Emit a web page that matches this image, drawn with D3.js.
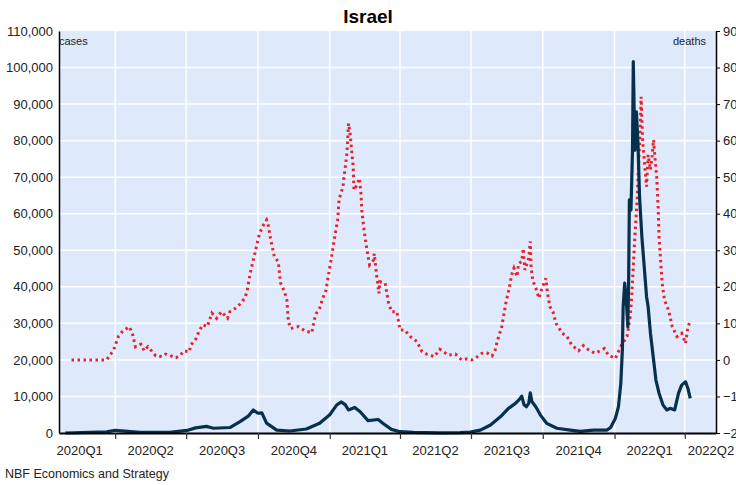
<!DOCTYPE html>
<html>
<head>
<meta charset="utf-8">
<script src="https://cdn.jsdelivr.net/npm/d3@7"></script>
<style>
  body { margin: 0; background: #fff; }
  svg { display: block; font-family: 'Liberation Sans', Arial, Helvetica, sans-serif; }
</style>
</head>
<body>
<svg id="chart"></svg>
<script>
// daily cases, 7-day style series (left axis)
const caseDates = ['2020-01-28','2020-03-21','2020-04-01','2020-04-13','2020-05-03','2020-06-10','2020-07-02','2020-07-13','2020-07-27','2020-08-05',
  '2020-08-26','2020-09-08','2020-09-19','2020-09-25','2020-10-01','2020-10-06','2020-10-12','2020-10-25','2020-11-11','2020-12-02',
  '2020-12-19','2021-01-01','2021-01-10','2021-01-16','2021-01-21','2021-01-25','2021-02-02','2021-02-09','2021-02-19','2021-03-04',
  '2021-03-10','2021-03-21','2021-04-01','2021-04-18','2021-05-22','2021-06-17','2021-06-30','2021-07-13','2021-07-26','2021-08-08',
  '2021-08-18','2021-08-27','2021-09-01','2021-09-04','2021-09-07','2021-09-10','2021-09-13','2021-09-15','2021-09-17','2021-09-22',
  '2021-09-28','2021-10-06','2021-10-19','2021-11-05','2021-11-18','2021-12-05','2021-12-22','2021-12-27','2022-01-02','2022-01-06',
  '2022-01-09','2022-01-11','2022-01-12','2022-01-14','2022-01-16','2022-01-18','2022-01-19','2022-01-20','2022-01-22','2022-01-24',
  '2022-01-25','2022-01-27','2022-01-29','2022-01-31','2022-02-02','2022-02-05','2022-02-09','2022-02-11','2022-02-13','2022-02-16',
  '2022-02-20','2022-02-23','2022-02-27','2022-03-04','2022-03-09','2022-03-13','2022-03-19','2022-03-24','2022-03-28','2022-04-02',
  '2022-04-05','2022-04-08'];
const caseValues = [0,300,750,500,150,150,700,1400,1800,1300,
  1500,3100,4700,6300,5400,5500,2700,800,550,1100,
  2650,5000,7700,8500,7700,6300,7000,5800,3400,3700,
  2650,1000,360,150,50,100,250,800,2200,4500,
  6750,8100,9200,10100,7700,7200,8100,11000,8600,7200,
  4900,2650,1300,800,460,800,800,1500,4000,7200,
  13600,22700,34600,41000,36400,29100,41000,63800,61000,77400,
  101600,77400,87900,79300,64700,53700,42800,37300,34600,27300,
  20000,14500,10900,7700,6300,6750,6300,10900,13100,14000,
  12200,9500];

// daily deaths (right axis)
const deathDates = ['2020-02-05','2020-03-21','2020-03-26','2020-03-30','2020-04-05','2020-04-10','2020-04-19','2020-04-23','2020-04-27','2020-05-04',
  '2020-05-08','2020-05-13','2020-05-23','2020-05-31','2020-06-05','2020-06-18','2020-06-24','2020-06-28','2020-07-05','2020-07-07',
  '2020-07-13','2020-07-17','2020-07-22','2020-07-28','2020-08-03','2020-08-09','2020-08-15','2020-08-23','2020-08-26','2020-09-02',
  '2020-09-08','2020-09-14','2020-09-17','2020-09-21','2020-09-25','2020-09-29','2020-10-03','2020-10-08','2020-10-12','2020-10-14',
  '2020-10-17','2020-10-22','2020-10-27','2020-10-30','2020-11-04','2020-11-07','2020-11-09','2020-11-12','2020-11-22','2020-11-30',
  '2020-12-09','2020-12-12','2020-12-15','2020-12-19','2020-12-23','2020-12-27','2020-12-30','2021-01-03','2021-01-08','2021-01-11',
  '2021-01-13','2021-01-18','2021-01-19','2021-01-21','2021-01-23','2021-01-24','2021-01-25','2021-01-27','2021-01-29','2021-01-31',
  '2021-02-01','2021-02-05','2021-02-08','2021-02-10','2021-02-11','2021-02-14','2021-02-17','2021-02-21','2021-02-26','2021-02-27',
  '2021-03-02','2021-03-05','2021-03-06','2021-03-13','2021-03-17','2021-03-21','2021-03-28','2021-04-01','2021-04-07','2021-04-14',
  '2021-04-23','2021-04-29','2021-05-05','2021-05-15','2021-05-22','2021-06-02','2021-06-11','2021-06-19','2021-06-26','2021-07-02',
  '2021-07-08','2021-07-15','2021-07-21','2021-07-28','2021-08-01','2021-08-03','2021-08-06','2021-08-09','2021-08-12','2021-08-15',
  '2021-08-19','2021-08-22','2021-08-25','2021-08-29','2021-08-31','2021-09-04','2021-09-06','2021-09-08','2021-09-13','2021-09-15',
  '2021-09-16','2021-09-18','2021-09-23','2021-09-26','2021-09-30','2021-10-05','2021-10-07','2021-10-10','2021-10-14','2021-10-18',
  '2021-10-26','2021-11-01','2021-11-07','2021-11-16','2021-11-22','2021-11-29','2021-12-07','2021-12-19','2021-12-24','2022-01-02',
  '2022-01-06','2022-01-10','2022-01-17','2022-01-21','2022-01-23','2022-01-25','2022-01-27','2022-01-30','2022-02-01','2022-02-03',
  '2022-02-04','2022-02-06','2022-02-08','2022-02-11','2022-02-13','2022-02-16','2022-02-18','2022-02-20','2022-02-22','2022-02-24',
  '2022-02-26','2022-02-27','2022-03-01','2022-03-03','2022-03-06','2022-03-11','2022-03-16','2022-03-22','2022-03-28','2022-04-02',
  '2022-04-05','2022-04-08'];
const deathValues = [0,0,1.5,2.7,6.4,7.7,9.1,7.3,3.6,4.3,
  2.5,3.6,1.1,0.9,1.6,0.6,1.4,2.5,2.2,4.1,
  5.6,7.6,9.6,9.1,12.8,11.4,13.2,11.4,13.2,14.1,
  15.3,16.9,18.7,23.7,27.3,31.0,34.6,36.9,38.3,37,
  33.3,28.2,26.9,21.0,18.7,16.4,10.5,8.6,9.1,8.0,
  7.4,10.9,12.8,14.1,16.9,18.9,22.8,27.8,34.6,38.0,
  44.0,47.4,49.7,52.9,56.5,60.6,64.7,62,57.4,52.9,
  46.5,47.9,49.7,45.6,41,35.5,31,26,27.3,29.1,
  23.2,18.2,21.4,21,15.9,13.2,13.2,8.2,8.2,6.4,
  5.0,2.3,1.6,0.9,2.9,1.3,1.6,0,0.3,0,
  0.7,1.8,2.0,1.1,2.7,4.5,6.8,8.6,12.3,15.9,
  19.6,23.2,25.1,22.8,26.4,26.9,30.5,24.6,27.8,32.4,
  25.5,21.9,19.1,16.9,19.6,22.3,18.4,14.6,13.2,10.0,
  7.3,6.4,4.1,2.5,3.9,2.7,1.8,3.1,1.3,0.4,
  2.3,4.1,6.4,11.8,17.3,25.5,33.7,43.8,54.7,63.8,
  72,60.2,54.7,47.4,56.1,52,55.6,60.2,54.7,50.1,
  41,33.7,27.3,21,16.4,13.7,9.1,6.4,7.3,4.5,
  9.1,10.5];

const quarterStarts = ['2020-01-01','2020-04-01','2020-07-01','2020-10-01','2021-01-01','2021-04-01','2021-07-01','2021-10-01','2022-01-01','2022-04-01','2022-07-01'];
const quarterLabels = ['2020Q1','2020Q2','2020Q3','2020Q4','2021Q1','2021Q2','2021Q3','2021Q4','2022Q1','2022Q2'];
const caseTicks = [0,10000,20000,30000,40000,50000,60000,70000,80000,90000,100000,110000];
const deathTicks = [-20,-10,0,10,20,30,40,50,60,70,80,90];

class DualAxisLine {

    constructor(_config) {
        this.config = {
            parentElement: _config.parentElement,
            containerWidth: _config.containerWidth || 736,
            containerHeight: _config.containerHeight || 485,
            margin: {top: 31, right: 20, bottom: 52, left: 59}
        }
        this.initVis();
    }

    initVis() {
        let vis = this;
        const parse = d3.timeParse('%Y-%m-%d');

        vis.width = vis.config.containerWidth - vis.config.margin.left - vis.config.margin.right;
        vis.height = vis.config.containerHeight - vis.config.margin.top - vis.config.margin.bottom;

        vis.cases = caseDates.map((d, i) => ({date: parse(d), value: caseValues[i]}));
        vis.deaths = deathDates.map((d, i) => ({date: parse(d), value: deathValues[i]}));
        vis.quarters = quarterStarts.map(parse);

        vis.xScale = d3.scaleTime()
            .domain([parse('2020-01-20'), parse('2022-05-11')])
            .range([0, vis.width]);

        vis.yScale = d3.scaleLinear()
            .domain([0, 110000])
            .range([vis.height, 0]);

        vis.y2Scale = d3.scaleLinear()
            .domain([-20, 90])
            .range([vis.height, 0]);

        vis.svg = d3.select(vis.config.parentElement)
            .attr('width', vis.config.containerWidth)
            .attr('height', vis.config.containerHeight);

        vis.chart = vis.svg.append('g')
            .attr('transform', `translate(${vis.config.margin.left},${vis.config.margin.top})`);

        vis.chart.append('rect')
            .attr('width', vis.width)
            .attr('height', vis.height)
            .attr('fill', '#deeafc');

        vis.svg.append('text')
            .attr('x', 368)
            .attr('y', 23)
            .attr('text-anchor', 'middle')
            .style('font-size', '19px')
            .style('font-weight', 700)
            .style('fill', '#000')
            .text('Israel');

        vis.svg.append('text')
            .attr('x', 5)
            .attr('y', 478)
            .style('font-size', '12.5px')
            .style('fill', '#222')
            .text('NBF Economics and Strategy');

        vis.renderVis();
    }

    renderVis() {
        let vis = this;
        const inner = vis.quarters.filter(q => vis.xScale(q) > 1 && vis.xScale(q) < vis.width - 1);

        // grid
        vis.chart.append('g')
            .selectAll('line')
            .data(caseTicks.filter(t => t > 0 && t < 110000))
            .join('line')
            .attr('x1', 0)
            .attr('x2', vis.width)
            .attr('y1', d => vis.yScale(d))
            .attr('y2', d => vis.yScale(d))
            .attr('stroke', '#fff')
            .attr('stroke-width', 1.5);

        vis.chart.append('g')
            .selectAll('line')
            .data(inner)
            .join('line')
            .attr('x1', d => vis.xScale(d))
            .attr('x2', d => vis.xScale(d))
            .attr('y1', 0)
            .attr('y2', vis.height)
            .attr('stroke', '#fff')
            .attr('stroke-width', 1.5);

        // deaths, dotted red, right axis
        const deathLine = d3.line()
            .x(d => vis.xScale(d.date))
            .y(d => vis.y2Scale(d.value));

        vis.chart.append('path')
            .datum(vis.deaths)
            .attr('d', deathLine)
            .attr('fill', 'none')
            .attr('stroke', '#e8212b')
            .attr('stroke-width', 3)
            .attr('stroke-dasharray', '2.5,3.5');

        // cases, solid navy, left axis
        const caseLine = d3.line()
            .x(d => vis.xScale(d.date))
            .y(d => vis.yScale(d.value));

        vis.chart.append('path')
            .datum(vis.cases)
            .attr('d', caseLine)
            .attr('fill', 'none')
            .attr('stroke', '#07304d')
            .attr('stroke-width', 3.2)
            .attr('stroke-linejoin', 'round');

        // left axis
        vis.yAxisG = vis.chart.append('g')
            .call(d3.axisLeft(vis.yScale).tickValues(caseTicks).tickSize(0).tickPadding(6).tickFormat(d3.format(',')))
            .style('font-size', '13px')
            .style('font-family', "'Liberation Sans', Arial, sans-serif");
        vis.yAxisG.select('.domain').attr('stroke', '#000').attr('stroke-width', 1.5);
        vis.yAxisG.selectAll('text').attr('fill', '#222');

        // right axis (labels run off the edge, as in the source)
        vis.y2AxisG = vis.chart.append('g')
            .attr('transform', `translate(${vis.width},0)`)
            .call(d3.axisRight(vis.y2Scale).tickValues(deathTicks).tickSize(4).tickSizeOuter(0).tickPadding(3))
            .style('font-size', '13px')
            .style('font-family', "'Liberation Sans', Arial, sans-serif");
        vis.y2AxisG.select('.domain').attr('stroke', '#000').attr('stroke-width', 1.5);
        vis.y2AxisG.selectAll('text').attr('fill', '#222');

        // bottom axis
        vis.xAxisG = vis.chart.append('g')
            .attr('transform', `translate(0,${vis.height})`)
            .call(d3.axisBottom(vis.xScale).tickValues(inner).tickSize(6).tickSizeOuter(0).tickFormat(''));
        vis.xAxisG.select('.domain').attr('stroke', '#000').attr('stroke-width', 2);
        vis.xAxisG.selectAll('.tick line').attr('stroke', '#333').attr('stroke-width', 1.2);

        vis.chart.append('g')
            .selectAll('text')
            .data(quarterLabels)
            .join('text')
            .attr('x', (d, i) => {
                const mid = (vis.xScale(vis.quarters[i]) + vis.xScale(vis.quarters[i + 1])) / 2;
                return Math.min(mid, vis.config.containerWidth - vis.config.margin.left - 25);
            })
            .attr('y', vis.height + 22)
            .attr('text-anchor', 'middle')
            .style('font-size', '13px')
            .style('fill', '#222')
            .text(d => d);

        // axis captions
        vis.chart.append('text')
            .attr('x', 0)
            .attr('y', 14)
            .style('font-size', '11px')
            .style('fill', '#222')
            .text('cases');

        vis.chart.append('text')
            .attr('x', vis.width - 10)
            .attr('y', 14)
            .attr('text-anchor', 'end')
            .style('font-size', '11px')
            .style('fill', '#222')
            .text('deaths');
    }
}

new DualAxisLine({parentElement: '#chart'});
</script>
</body>
</html>
